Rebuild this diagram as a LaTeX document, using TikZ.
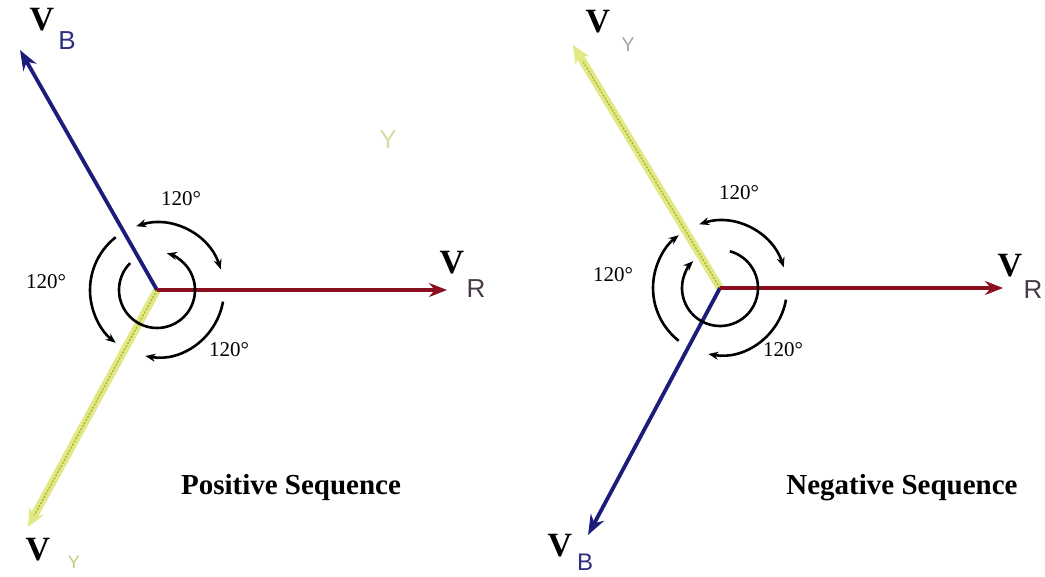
\documentclass[tikz,border=0pt]{standalone}
\usepackage{fontspec}
\setmainfont{Liberation Serif}
\setsansfont{Liberation Sans}
\usetikzlibrary{arrows.meta,calc}
\definecolor{navy}{HTML}{1C1C7A}
\definecolor{dred}{HTML}{8A1020}
\definecolor{yfill}{HTML}{E2E884}
\definecolor{yedge}{HTML}{A8B238}
\definecolor{bsub}{HTML}{2E2E80}
\definecolor{rsub}{HTML}{4A3A48}
\definecolor{ysub}{HTML}{C4CC80}
\tikzset{
  bluevec/.style={navy,line width=3.8pt,-{Stealth[length=20pt,width=15pt]}},
  redvec/.style={dred,line width=3.8pt,-{Stealth[length=18pt,width=14pt]}},
  yelvec/.style={yfill,line width=8pt,-{Stealth[length=18pt,width=16pt]}},
  yelcore/.style={yedge,line width=1.3pt,dash pattern=on 2pt off 1.5pt},
  rot/.style={black,line width=2.6pt},
  rotend/.style={rot,-{Stealth[length=10pt,width=8pt]}},
  rotboth/.style={rot,{Stealth[length=10pt,width=8pt]}-{Stealth[length=10pt,width=8pt]}},
  vlab/.style={font=\fontsize{34}{34}\selectfont\bfseries,inner sep=0pt},
  sublab/.style={font=\sffamily\fontsize{26}{26}\selectfont,inner sep=0pt},
  anglab/.style={font=\fontsize{21}{21}\selectfont,inner sep=0pt},
  title/.style={font=\fontsize{29}{29}\selectfont\bfseries,inner sep=0pt}
}
\begin{document}
\begin{tikzpicture}[x=1pt,y=-1pt]
\useasboundingbox (0,0) rectangle (1045,577);
% ---------- Positive sequence ----------
\coordinate (c1) at (157,290);
\coordinate (r1) at (447,290);
\coordinate (b1) at (20,50);
\coordinate (y1) at (28,527);
\draw[yelvec] (c1) -- (y1);
\draw[yelcore] (c1) -- ($(y1)!0.05!(c1)$);
\draw[bluevec] (c1) -- (b1);
\draw[redvec] (c1) -- (r1);
\draw[rotboth] ([shift={(-108:67)}]c1) arc[start angle=-108, end angle=-18, radius=67];
\draw[rotend] ([shift={(10:67)}]c1) arc[start angle=10, end angle=100, radius=67];
\draw[rotend] ([shift={(-128:67)}]c1) arc[start angle=-128, end angle=-232, radius=67];
\draw[rotend] ([shift={(-135:38)}]c1) arc[start angle=-135, end angle=-435, radius=38];
\node[vlab] (vb1) at (42,20) {V};
\node[sublab,bsub] (sb1) at (67,41) {B};
\node[vlab] (vr1) at (452,263) {V};
\node[sublab,rsub] (sr1) at (476,289) {R};
\node[vlab] (vy1) at (38,550) {V};
\node[sublab,ysub,font=\sffamily\fontsize{18}{18}\selectfont] (sy1) at (74,562) {Y};
\node[sublab,ysub!70!white] (stray) at (388,140) {Y};
\node[anglab] (a1t) at (181,199) {120°};
\node[anglab] (a1l) at (46,282) {120°};
\node[anglab] (a1b) at (229,350) {120°};
\node[title] (t1) at (291,488) {Positive Sequence};
% ---------- Negative sequence ----------
\coordinate (c2) at (720,288);
\coordinate (r2) at (1003,288);
\coordinate (y2) at (573,45);
\coordinate (b2) at (588,535);
\draw[yelvec] (c2) -- (y2);
\draw[yelcore] (c2) -- ($(y2)!0.07!(c2)$);
\draw[bluevec] (c2) -- (b2);
\draw[redvec] (c2) -- (r2);
\draw[rotboth] ([shift={(-108:67)}]c2) arc[start angle=-108, end angle=-18, radius=67];
\draw[rotend] ([shift={(10:67)}]c2) arc[start angle=10, end angle=100, radius=67];
\draw[rotend] ([shift={(-232:67)}]c2) arc[start angle=-232, end angle=-128, radius=67];
\draw[rotend] ([shift={(-75:38)}]c2) arc[start angle=-75, end angle=225, radius=38];
\node[vlab] (vy2) at (598,22) {V};
\node[sublab,gray!70,font=\sffamily\fontsize{20}{20}\selectfont] (sy2) at (628,45) {Y};
\node[vlab] (vr2) at (1010,266) {V};
\node[sublab,rsub] (sr2) at (1033,290) {R};
\node[vlab] (vb2) at (560,546) {V};
\node[sublab,bsub,font=\sffamily\fontsize{24}{24}\selectfont] (sb2) at (585,562) {B};
\node[anglab] (a2t) at (739,193) {120°};
\node[anglab] (a2l) at (613,275) {120°};
\node[anglab] (a2b) at (783,350) {120°};
\node[title] (t2) at (902,488) {Negative Sequence};
\end{tikzpicture}
\end{document}
